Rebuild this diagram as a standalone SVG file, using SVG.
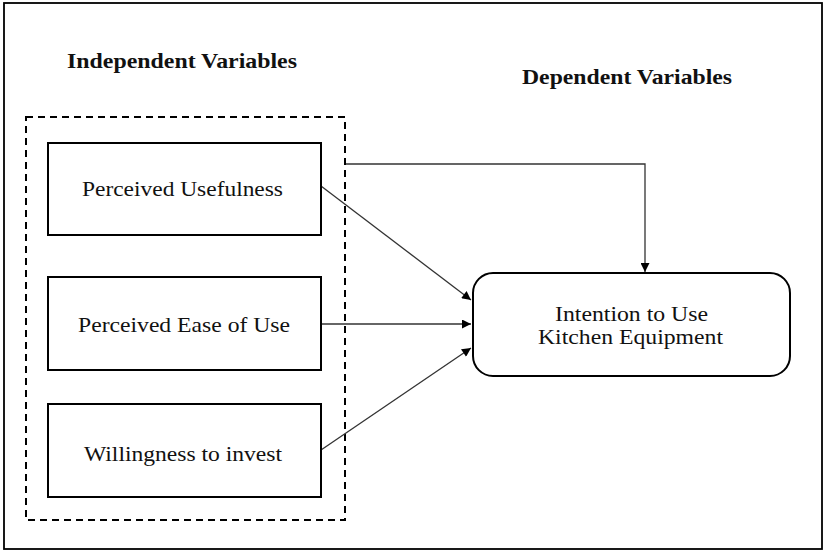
<svg xmlns="http://www.w3.org/2000/svg" width="826" height="551" viewBox="0 0 826 551">
  <defs>
    <marker id="arrow" viewBox="0 0 10 10" refX="10" refY="5" markerWidth="10" markerHeight="9" markerUnits="userSpaceOnUse" orient="auto">
      <path d="M0,0 L10,5 L0,10 Z" fill="#000"/>
    </marker>
  </defs>
  <style>
    text { font-family: "Liberation Serif", "Times New Roman", serif; fill: #111; }
    .title { font-size: 21px; font-weight: bold; }
    .lbl { font-size: 21px; }
    .box { fill: #fff; stroke: #000; stroke-width: 2; }
    .conn { fill: none; stroke: #333; stroke-width: 1.3; marker-end: url(#arrow); }
  </style>
  <rect x="0" y="0" width="826" height="551" fill="#fff"/>
  <rect id="frame" x="4" y="3" width="818" height="546" fill="none" stroke="#000" stroke-width="1.8"/>

  <text class="title" x="67" y="68" textLength="230" lengthAdjust="spacingAndGlyphs">Independent Variables</text>
  <text class="title" x="522" y="84" textLength="210" lengthAdjust="spacingAndGlyphs">Dependent Variables</text>

  <rect id="group" x="26" y="117" width="319" height="403" fill="none" stroke="#000" stroke-width="2" stroke-dasharray="7,5"/>

  <g id="connectors">
    <path class="conn" d="M346,164 H645 V272"/>
    <path class="conn" d="M321,186 L471,300"/>
    <path class="conn" d="M321,324 L471,324"/>
    <path class="conn" d="M321,450 L471,348"/>
  </g>

  <g id="pu">
    <rect class="box" x="48" y="143" width="273" height="92"/>
    <text class="lbl" x="82" y="196" textLength="201" lengthAdjust="spacingAndGlyphs">Perceived Usefulness</text>
  </g>
  <g id="peou">
    <rect class="box" x="48" y="277" width="273" height="93"/>
    <text class="lbl" x="78" y="332" textLength="212" lengthAdjust="spacingAndGlyphs">Perceived Ease of Use</text>
  </g>
  <g id="wti">
    <rect class="box" x="48" y="404" width="273" height="93"/>
    <text class="lbl" x="84" y="461" textLength="198" lengthAdjust="spacingAndGlyphs">Willingness to invest</text>
  </g>
  <g id="itu">
    <rect class="box" x="473" y="273" width="317" height="103" rx="20" ry="20"/>
    <text class="lbl" x="555" y="321" textLength="153" lengthAdjust="spacingAndGlyphs">Intention to Use</text>
    <text class="lbl" x="538" y="344" textLength="185" lengthAdjust="spacingAndGlyphs">Kitchen Equipment</text>
  </g>
</svg>
